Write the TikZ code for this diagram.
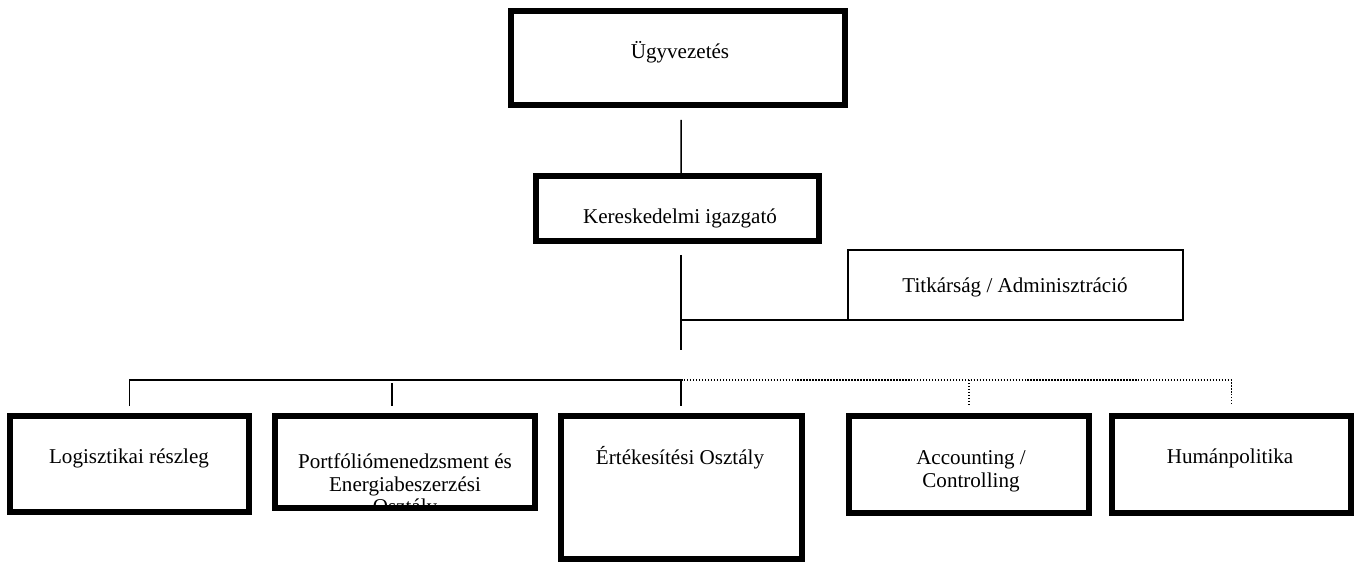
\documentclass[tikz,border=0pt]{standalone}
\usepackage{fontspec}
\setmainfont{Liberation Serif}
\usetikzlibrary{calc}
\tikzset{
	unitbox/.style={draw, line width=3.4pt, inner sep=0pt, outer sep=0pt},
	staffbox/.style={draw, line width=1.1pt, inner sep=0pt, outer sep=0pt},
	boxtext/.style={font=\fontsize{12}{13}\selectfont, align=center, inner sep=0pt},
	link/.style={line width=0.85pt},
	dotlink/.style={line width=0.85pt, dash pattern=on 0.85pt off 0.85pt}
}

\begin{document}
\begin{tikzpicture}[x=0.02cm, y=-0.02cm]
	\useasboundingbox (0,0) rectangle (1354,563);

	% Management and staff boxes
	\node[unitbox, minimum width=6.68cm, minimum height=1.88cm] (ugy) at (678,58) {};
	\node[unitbox, minimum width=5.66cm, minimum height=1.30cm] (ker) at (677.5,208.5) {};
	\node[staffbox, minimum width=6.70cm, minimum height=1.40cm] (titk) at (1015.5,285) {};

	% Department boxes
	\node[unitbox, minimum width=4.78cm, minimum height=1.92cm] (log) at (129.5,464) {};
	\node[unitbox, minimum width=5.20cm, minimum height=1.84cm] (port) at (405,462) {};
	\node[unitbox, minimum width=4.82cm, minimum height=2.86cm] (ert) at (681.5,487.5) {};
	\node[unitbox, minimum width=4.80cm, minimum height=1.94cm] (acc) at (969,464.5) {};
	\node[unitbox, minimum width=4.78cm, minimum height=1.94cm] (hum) at (1231.5,464.5) {};

	% Box texts
	\node[boxtext] (ugy text) at (680,52) {Ügyvezetés};
	\node[boxtext] (ker text) at (680,218) {Kereskedelmi igazgató};
	\node[boxtext] (titk text) at (1015,287) {Titkárság / Adminisztráció};
	\node[boxtext] (log text) at (129,458) {Logisztikai részleg};
	\begin{scope}
		\clip ($(port.south west)+(3,-3)$) rectangle ($(port.north east)+(-3,3)$);
		\node[boxtext] (port text) at (405,486) {Portfóliómenedzsment és\\Energiabeszerzési\\Osztály};
	\end{scope}
	\node[boxtext] (ert text) at (680,458) {Értékesítési Osztály};
	\node[boxtext] (acc text) at (971,471) {Accounting /\\Controlling};
	\node[boxtext] (hum text) at (1230,458) {Humánpolitika};

	% Upper connectors
	\draw[link] ($(ugy.south)+(3,15)$) -- ($(ker.north)+(3.5,-3)$);
	\draw[link] ($(ker.south)+(3.5,14)$) coordinate (kdown) -- ++(0,95);
	\draw[link] (kdown |- titk.south west) -- (titk.south west);

	% Bus to the departments
	\coordinate (bus) at (681,380);
	\draw[link] ($(log.north)+(0,-10)$) |- (bus) -- ($(ert.north)+(-0.5,-10)$);
	\draw[link] ($(port.north)+(-13,-33)$) -- ++(0,23);
	\draw[dotlink] (bus) -| ($(hum.north)+(0,-12)$);
	\draw[dotlink] (acc.north |- bus) -- ($(acc.north)+(0,-12)$);
\end{tikzpicture}
\end{document}
